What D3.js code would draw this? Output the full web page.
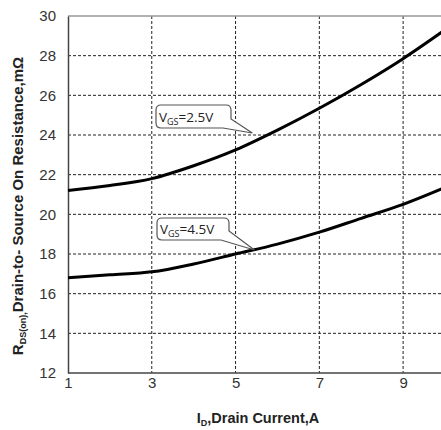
<!DOCTYPE html>
<html>
<head>
<meta charset="utf-8">
<script src="https://cdn.jsdelivr.net/npm/d3@7"></script>
<style>
  body { margin: 0; background: #fff; }
  svg { display: block; font-family: "Liberation Sans", Arial, sans-serif; }
</style>
</head>
<body>
<script>
// drain current, A
var current = [1, 2, 3, 4, 5, 6, 7, 8, 9, 10];
// RDS(on) in mOhm for each gate voltage
var vgs25 = [21.2, 21.45, 21.8, 22.45, 23.25, 24.25, 25.35, 26.55, 27.85, 29.3];
var vgs45 = [16.8, 16.95, 17.1, 17.5, 18.0, 18.5, 19.1, 19.8, 20.5, 21.35];
var xTicks = [1, 3, 5, 7, 9];
var yTicks = [12, 14, 16, 18, 20, 22, 24, 26, 28, 30];

drawChart();

function drawChart(){
    var width = 441, height = 430;
    var mLeft = 68, mTop = 16, mBottom = 373, mRight = 445;

    var svg = d3.select("body").append("svg")
        .attr("width", width)
        .attr("height", height);

    var x = d3.scaleLinear().domain([1, 10]).range([mLeft, mRight]);
    var y = d3.scaleLinear().domain([12, 30]).range([mBottom, mTop]);

    // dashed grid
    svg.append("g").selectAll("line")
        .data(yTicks.filter(function(d){ return d > 12 && d < 30; }))
        .enter().append("line")
        .attr("x1", mLeft).attr("x2", mRight)
        .attr("y1", function(d){ return y(d); })
        .attr("y2", function(d){ return y(d); })
        .attr("stroke", "#222").attr("stroke-width", 1)
        .attr("stroke-dasharray", "3,2");

    svg.append("g").selectAll("line")
        .data(xTicks.filter(function(d){ return d > 1; }))
        .enter().append("line")
        .attr("y1", mTop).attr("y2", mBottom)
        .attr("x1", function(d){ return x(d); })
        .attr("x2", function(d){ return x(d); })
        .attr("stroke", "#222").attr("stroke-width", 1)
        .attr("stroke-dasharray", "3,2");

    // top border
    svg.append("line")
        .attr("x1", mLeft).attr("x2", width)
        .attr("y1", mTop).attr("y2", mTop)
        .attr("stroke", "#999").attr("stroke-width", 1.5);

    // axes
    var xAxis = svg.append("g")
        .attr("transform", "translate(0," + mBottom + ")")
        .call(d3.axisBottom(x).tickValues(xTicks).tickSize(0).tickPadding(4));
    var yAxis = svg.append("g")
        .attr("transform", "translate(" + mLeft + ",0)")
        .call(d3.axisLeft(y).tickValues(yTicks).tickSize(0).tickPadding(12));

    [xAxis, yAxis].forEach(function(a){
        a.select(".domain").attr("stroke", "#444").attr("stroke-width", 1.5);
        a.selectAll("text").attr("font-size", 15).attr("fill", "#333")
            .attr("font-family", "Liberation Sans, Arial, sans-serif");
    });
    xAxis.select(".domain").attr("d", "M" + mLeft + ",0H" + width);

    // curves
    var line = d3.line()
        .x(function(d){ return x(d[0]); })
        .y(function(d){ return y(d[1]); })
        .curve(d3.curveMonotoneX);

    [vgs25, vgs45].forEach(function(s){
        svg.append("path")
            .datum(current.map(function(c, i){ return [c, s[i]]; }))
            .attr("fill", "none")
            .attr("stroke", "#000")
            .attr("stroke-width", 3)
            .attr("d", line);
    });

    // callout labels
    var callouts = [
        {v: "2.5V", bx: 156, by: 105, bw: 75, bh: 23, tip: [5.4, 24.1]},
        {v: "4.5V", bx: 157, by: 218, bw: 72, bh: 22, tip: [5.45, 18.2]}
    ];
    callouts.forEach(function(c){
        var g = svg.append("g");
        var tx = x(c.tip[0]), ty = y(c.tip[1]);
        var r = 5;
        var bx = c.bx, by = c.by, bw = c.bw, bh = c.bh;
        var p = "M" + (bx + r) + "," + by +
            "H" + (bx + bw - r) +
            "Q" + (bx + bw) + "," + by + " " + (bx + bw) + "," + (by + r) +
            "V" + (by + bh - 9) +
            "L" + tx + "," + ty +
            "L" + (bx + bw - 8) + "," + (by + bh) +
            "H" + (bx + r) +
            "Q" + bx + "," + (by + bh) + " " + bx + "," + (by + bh - r) +
            "V" + (by + r) +
            "Q" + bx + "," + by + " " + (bx + r) + "," + by + "Z";
        g.append("path").attr("d", p)
            .attr("fill", "#fff").attr("stroke", "#555").attr("stroke-width", 1.2);
        var t = g.append("text")
            .attr("x", bx + 3).attr("y", by + bh / 2 + 5)
            .attr("font-size", 13.5).attr("fill", "#222")
            .attr("font-family", "Open Sans, Liberation Sans, sans-serif");
        t.append("tspan").text("V");
        t.append("tspan").attr("font-size", 9).attr("dy", 3).text("GS");
        t.append("tspan").attr("dy", -3).text("=" + c.v);
    });

    // axis titles
    var xt = svg.append("text")
        .attr("x", 258).attr("y", 423)
        .attr("text-anchor", "middle")
        .attr("font-size", 14.5).attr("font-weight", "bold").attr("fill", "#222");
    xt.append("tspan").text("I");
    xt.append("tspan").attr("font-size", 9).attr("dy", 3).text("D");
    xt.append("tspan").attr("dy", -3).text(",Drain Current,A");

    var yt = svg.append("text")
        .attr("transform", "translate(23,206) rotate(-90)")
        .attr("text-anchor", "middle")
        .attr("font-size", 15).attr("font-weight", "bold").attr("fill", "#222");
    yt.append("tspan").text("R");
    yt.append("tspan").attr("font-size", 9).attr("dy", 3).text("DS(on),");
    yt.append("tspan").attr("dy", -3).text("Drain-to- Source On Resistance,mΩ");
}
</script>
</body>
</html>
